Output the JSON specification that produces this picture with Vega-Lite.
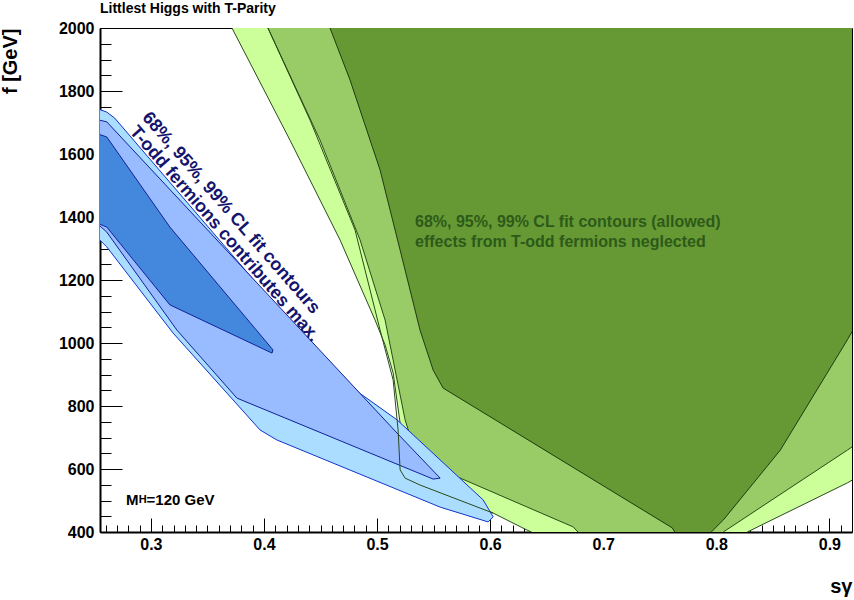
{
  "$schema": "https://vega.github.io/schema/vega-lite/v6.json",
  "width": 752,
  "height": 504,
  "autosize": "none",
  "padding": {"left": 100, "top": 28, "right": 2, "bottom": 68},
  "title": {"text": "Littlest Higgs with T-Parity", "anchor": "start", "frame": "group", "fontSize": 14, "font": "Liberation Sans", "fontWeight": "bold", "offset": 4},
  "config": {
    "font": "Liberation Sans",
    "view": {"stroke": "black", "strokeWidth": 1},
    "axis": {"grid": false, "domainColor": "black", "domainWidth": 2, "tickColor": "black", "labelFont": "Liberation Sans", "labelFontWeight": "bold", "labelFontSize": 16, "labelColor": "black", "titleFont": "Liberation Sans", "titleFontWeight": "bold", "titleFontSize": 20, "titleColor": "black"}
  },
  "datasets": {
    "poly": [
      {"p": "a", "i": 1, "x": 0.364, "y": 2050}, {"p": "a", "i": 2, "x": 0.3717, "y": 2000}, {"p": "a", "i": 3, "x": 0.423, "y": 1644}, {"p": "a", "i": 4, "x": 0.4673, "y": 1327}, {"p": "a", "i": 5, "x": 0.4982, "y": 1073}, {"p": "a", "i": 6, "x": 0.5071, "y": 994}, {"p": "a", "i": 7, "x": 0.5142, "y": 905}, {"p": "a", "i": 8, "x": 0.5204, "y": 746}, {"p": "a", "i": 9, "x": 0.5336, "y": 597}, {"p": "a", "i": 10, "x": 0.5558, "y": 533}, {"p": "a", "i": 11, "x": 0.6027, "y": 460}, {"p": "a", "i": 12, "x": 0.6327, "y": 406}, {"p": "a", "i": 13, "x": 0.662, "y": 359}, {"p": "a", "i": 14, "x": 0.8274, "y": 359}, {"p": "a", "i": 15, "x": 0.8274, "y": 400}, {"p": "a", "i": 16, "x": 0.9159, "y": 556}, {"p": "a", "i": 17, "x": 0.936, "y": 597}, {"p": "a", "i": 18, "x": 0.936, "y": 2050},
      {"p": "b", "i": 1, "x": 0.398, "y": 2050}, {"p": "b", "i": 2, "x": 0.4035, "y": 2000}, {"p": "b", "i": 3, "x": 0.4496, "y": 1644}, {"p": "b", "i": 4, "x": 0.485, "y": 1327}, {"p": "b", "i": 5, "x": 0.5071, "y": 1073}, {"p": "b", "i": 6, "x": 0.5142, "y": 946}, {"p": "b", "i": 7, "x": 0.5248, "y": 756}, {"p": "b", "i": 8, "x": 0.5354, "y": 635}, {"p": "b", "i": 9, "x": 0.5407, "y": 622}, {"p": "b", "i": 10, "x": 0.6735, "y": 416}, {"p": "b", "i": 11, "x": 0.6885, "y": 359}, {"p": "b", "i": 12, "x": 0.8062, "y": 359}, {"p": "b", "i": 13, "x": 0.8062, "y": 400}, {"p": "b", "i": 14, "x": 0.9159, "y": 660}, {"p": "b", "i": 15, "x": 0.936, "y": 708}, {"p": "b", "i": 16, "x": 0.936, "y": 2050},
      {"p": "c", "i": 1, "x": 0.455, "y": 2050}, {"p": "c", "i": 2, "x": 0.4584, "y": 2000}, {"p": "c", "i": 3, "x": 0.4761, "y": 1835}, {"p": "c", "i": 4, "x": 0.5027, "y": 1549}, {"p": "c", "i": 5, "x": 0.5204, "y": 1295}, {"p": "c", "i": 6, "x": 0.538, "y": 1041}, {"p": "c", "i": 7, "x": 0.5496, "y": 914}, {"p": "c", "i": 8, "x": 0.5584, "y": 857}, {"p": "c", "i": 9, "x": 0.7611, "y": 413}, {"p": "c", "i": 10, "x": 0.7637, "y": 397}, {"p": "c", "i": 11, "x": 0.7947, "y": 397}, {"p": "c", "i": 12, "x": 0.8062, "y": 438}, {"p": "c", "i": 13, "x": 0.8566, "y": 660}, {"p": "c", "i": 14, "x": 0.9159, "y": 1010}, {"p": "c", "i": 15, "x": 0.936, "y": 1137}, {"p": "c", "i": 16, "x": 0.936, "y": 2050},
      {"p": "d", "i": 1, "x": 0.24, "y": 1760}, {"p": "d", "i": 2, "x": 0.261, "y": 1733}, {"p": "d", "i": 3, "x": 0.268, "y": 1714}, {"p": "d", "i": 4, "x": 0.4646, "y": 892}, {"p": "d", "i": 5, "x": 0.5177, "y": 756}, {"p": "d", "i": 6, "x": 0.5938, "y": 502}, {"p": "d", "i": 7, "x": 0.6027, "y": 448}, {"p": "d", "i": 8, "x": 0.5982, "y": 432}, {"p": "d", "i": 9, "x": 0.5558, "y": 479}, {"p": "d", "i": 10, "x": 0.4115, "y": 692}, {"p": "d", "i": 11, "x": 0.3965, "y": 724}, {"p": "d", "i": 12, "x": 0.3195, "y": 1032}, {"p": "d", "i": 13, "x": 0.261, "y": 1305}, {"p": "d", "i": 14, "x": 0.24, "y": 1380},
      {"p": "e", "i": 1, "x": 0.24, "y": 1720}, {"p": "e", "i": 2, "x": 0.261, "y": 1702}, {"p": "e", "i": 3, "x": 0.5177, "y": 714}, {"p": "e", "i": 4, "x": 0.5558, "y": 571}, {"p": "e", "i": 5, "x": 0.5496, "y": 568}, {"p": "e", "i": 6, "x": 0.3761, "y": 825}, {"p": "e", "i": 7, "x": 0.323, "y": 1041}, {"p": "e", "i": 8, "x": 0.261, "y": 1352}, {"p": "e", "i": 9, "x": 0.24, "y": 1420},
      {"p": "f", "i": 1, "x": 0.24, "y": 1680}, {"p": "f", "i": 2, "x": 0.261, "y": 1654}, {"p": "f", "i": 3, "x": 0.3168, "y": 1368}, {"p": "f", "i": 4, "x": 0.408, "y": 978}, {"p": "f", "i": 5, "x": 0.4071, "y": 968}, {"p": "f", "i": 6, "x": 0.3168, "y": 1121}, {"p": "f", "i": 7, "x": 0.261, "y": 1368}, {"p": "f", "i": 8, "x": 0.24, "y": 1400}
    ],
    "curve": [
      {"i": 1, "x": 0.4035, "y": 2000}, {"i": 2, "x": 0.4407, "y": 1708}, {"i": 3, "x": 0.4805, "y": 1359}, {"i": 4, "x": 0.5027, "y": 1041}, {"i": 5, "x": 0.5142, "y": 883}, {"i": 6, "x": 0.5186, "y": 724}, {"i": 7, "x": 0.5204, "y": 597}, {"i": 8, "x": 0.5248, "y": 571}, {"i": 9, "x": 0.5381, "y": 549}, {"i": 10, "x": 0.6027, "y": 460}
    ],
    "labels": [
      {"t": "68%, 95%, 99% CL fit contours", "x": 0.295, "y": 1725, "c": "blue", "a": 49, "s": 18, "dy": 0},
      {"t": "T-odd fermions contributes max.", "x": 0.284, "y": 1680, "c": "blue", "a": 49, "s": 18, "dy": 0},
      {"t": "68%, 95%, 99% CL fit contours (allowed)", "x": 0.5336, "y": 1384, "c": "green", "a": 0, "s": 16, "dy": 0},
      {"t": "effects from T-odd fermions neglected", "x": 0.5336, "y": 1321, "c": "green", "a": 0, "s": 16, "dy": 0},
      {"t": "M", "x": 0.2779, "y": 502, "c": "black", "a": 0, "s": 15, "dy": 0},
      {"t": "H", "x": 0.2892, "y": 502, "c": "black", "a": 0, "s": 11, "dy": 5},
      {"t": "=120 GeV", "x": 0.2962, "y": 502, "c": "black", "a": 0, "s": 15, "dy": 0}
    ]
  },
  "encoding": {
    "x": {"field": "x", "type": "quantitative", "scale": {"domain": [0.255, 0.92], "nice": false, "zero": false},
      "axis": {"title": "sγ", "titleAnchor": "end", "titleX": 752, "titleY": 44, "titleAlign": "right", "values": [0.26,0.27,0.28,0.29,0.3,0.31,0.32,0.33,0.34,0.35,0.36,0.37,0.38,0.39,0.4,0.41,0.42,0.43,0.44,0.45,0.46,0.47,0.48,0.49,0.5,0.51,0.52,0.53,0.54,0.55,0.56,0.57,0.58,0.59,0.6,0.61,0.62,0.63,0.64,0.65,0.66,0.67,0.68,0.69,0.7,0.71,0.72,0.73,0.74,0.75,0.76,0.77,0.78,0.79,0.8,0.81,0.82,0.83,0.84,0.85,0.86,0.87,0.88,0.89,0.9,0.91],
        "labelExpr": "round(datum.value*100) % 10 === 0 ? datum.label : ''",
        "tickSize": {"condition": {"test": "round(datum.value*100) % 10 === 0", "value": -14}, "value": -7},
        "labelPadding": 18, "format": ".1f"}},
    "y": {"field": "y", "type": "quantitative", "scale": {"domain": [400, 2000], "nice": false, "zero": false},
      "axis": {"title": "f [GeV]", "titleAngle": 270, "titleAlign": "right", "titleX": -80, "titleY": 0, "titleBaseline": "bottom",
        "values": [400,450,500,550,600,650,700,750,800,850,900,950,1000,1050,1100,1150,1200,1250,1300,1350,1400,1450,1500,1550,1600,1650,1700,1750,1800,1850,1900,1950,2000],
        "labelExpr": "datum.value % 200 === 0 ? datum.label : ''",
        "tickSize": {"condition": {"test": "datum.value % 200 === 0", "value": -22}, "value": -11},
        "labelPadding": 28, "format": "d"}}
  },
  "layer": [
    {
      "data": {"name": "poly"},
      "mark": {"type": "line", "interpolate": "linear-closed", "clip": true, "strokeWidth": 1},
      "encoding": {
        "detail": {"field": "p"},
        "order": {"field": "i", "type": "quantitative"},
        "fill": {"field": "p", "type": "nominal", "legend": null, "scale": {"domain": ["a","b","c","d","e","f"], "range": ["#ccff99","#99cc66","#669933","#aaddff","#99bbff","#4488dd"]}},
        "stroke": {"field": "p", "type": "nominal", "legend": null, "scale": {"domain": ["a","b","c","d","e","f"], "range": ["#2b4a1a","#2b4a1a","#1f3a10","#1133cc","#112299","#112299"]}}
      }
    },
    {
      "data": {"name": "curve"},
      "mark": {"type": "line", "clip": true, "color": "#2b4a1a", "strokeWidth": 1},
      "encoding": {"order": {"field": "i", "type": "quantitative"}}
    },
    {
      "data": {"name": "labels"},
      "mark": {"type": "text", "align": "left", "baseline": "middle", "fontWeight": "bold", "font": "Liberation Sans"},
      "encoding": {
        "text": {"field": "t"},
        "angle": {"field": "a", "type": "quantitative", "scale": null},
        "size": {"field": "s", "type": "quantitative", "scale": null},
        "dy": {"field": "dy", "type": "quantitative", "scale": null},
        "color": {"field": "c", "type": "nominal", "legend": null, "scale": {"domain": ["blue","green","black"], "range": ["#14146e","#2d5a1a","#000000"]}}
      }
    }
  ]
}
